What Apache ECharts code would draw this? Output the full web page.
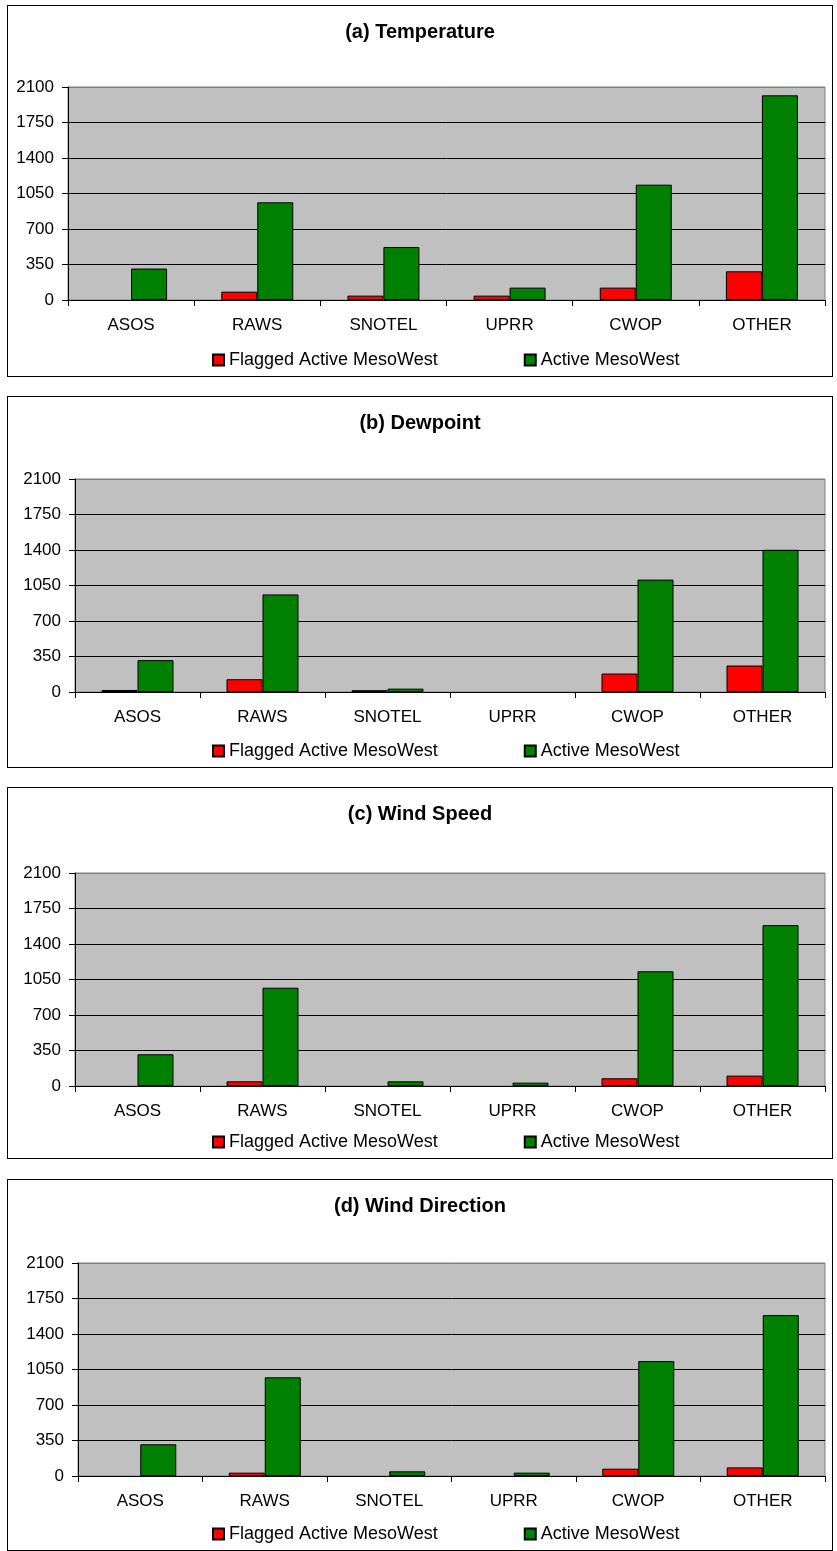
<!DOCTYPE html>
<html>
<head>
<meta charset="utf-8">
<script src="https://cdn.jsdelivr.net/npm/echarts@6/dist/echarts.min.js"></script>
<style>
  body { margin: 0; background: #fff; width: 837px; height: 1551px; position: relative; overflow: hidden; }
  .panel { position: absolute; left: 7px; width: 824px; height: 370px; border: 1px solid #000; background: #fff; }
</style>
</head>
<body>
<div id="pa" class="panel" style="top:5px"></div>
<div id="pb" class="panel" style="top:396px"></div>
<div id="pc" class="panel" style="top:787px"></div>
<div id="pd" class="panel" style="top:1179px"></div>
<script>
// station networks
const categories = ['ASOS', 'RAWS', 'SNOTEL', 'UPRR', 'CWOP', 'OTHER']
const seriesNames = ['Flagged Active MesoWest', 'Active MesoWest']

// (a) Temperature
const tempFlagged = [0, 82, 43, 43, 122, 283]
const tempActive = [310, 963, 522, 122, 1137, 2018]
// (b) Dewpoint
const dewFlagged = [20, 126, 18, 0, 182, 261]
const dewActive = [314, 962, 33, 0, 1108, 1402]
// (c) Wind Speed
const speedFlagged = [0, 46, 0, 0, 76, 102]
const speedActive = [313, 969, 46, 33, 1131, 1586]
// (d) Wind Direction
const dirFlagged = [0, 33, 0, 0, 72, 85]
const dirActive = [313, 973, 46, 33, 1133, 1586]

const yTicks = [0, 350, 700, 1050, 1400, 1750, 2100]

const font = '"Liberation Sans", Arial, sans-serif'

const panels = [
  { id: 'pa', title: '(a) Temperature', flagged: tempFlagged, active: tempActive, left: 60, top: 81 },
  { id: 'pb', title: '(b) Dewpoint', flagged: dewFlagged, active: dewActive, left: 67, top: 82 },
  { id: 'pc', title: '(c) Wind Speed', flagged: speedFlagged, active: speedActive, left: 67, top: 85 },
  { id: 'pd', title: '(d) Wind Direction', flagged: dirFlagged, active: dirActive, left: 70, top: 83 },
]

// zero counts are drawn as nothing, like the original
const noZero = arr => arr.map(v => (v === 0 ? '-' : v))

panels.forEach(p => {
  const chart = echarts.init(document.getElementById(p.id))
  chart.setOption({
    animation: false,
    textStyle: { fontFamily: font },
    title: {
      text: p.title, left: 'center', top: 11,
      textStyle: { fontSize: 20, fontWeight: 'bold', color: '#000', fontFamily: font },
    },
    legend: {
      left: 199, top: 340, padding: 5,
      itemWidth: 11, itemHeight: 11, itemGap: 86,
      icon: 'rect',
      textStyle: { fontSize: 18, color: '#000', fontFamily: font },
      data: seriesNames,
    },
    grid: {
      left: p.left, right: 7, top: p.top, height: 213,
      show: true, backgroundColor: '#C0C0C0', borderColor: '#808080', borderWidth: 1,
    },
    xAxis: {
      type: 'category', data: categories,
      axisLine: { lineStyle: { color: '#000', width: 1 } },
      axisTick: { show: true, length: 6, lineStyle: { color: '#000' } },
      axisLabel: { fontSize: 17, color: '#000', margin: 17, fontFamily: font },
    },
    yAxis: {
      type: 'value', min: yTicks[0], max: yTicks[yTicks.length - 1], interval: yTicks[1] - yTicks[0],
      axisLine: { show: true, lineStyle: { color: '#000', width: 1 } },
      axisTick: { show: true, length: 6, lineStyle: { color: '#000' } },
      axisLabel: { fontSize: 17, color: '#000', margin: 14, fontFamily: font, formatter: v => String(v) },
      splitLine: { show: true, lineStyle: { color: ['#000', '#000', '#000', '#000', '#000', '#000', '#808080'], width: 1 } },
    },
    series: [
      {
        name: seriesNames[0], type: 'bar', data: noZero(p.flagged), barWidth: 36, barGap: '0%',
        itemStyle: { color: '#FF0000', borderColor: '#000', borderWidth: 1 },
      },
      {
        name: seriesNames[1], type: 'bar', data: noZero(p.active), barWidth: 36, barGap: '0%',
        itemStyle: { color: '#008000', borderColor: '#000', borderWidth: 1 },
      },
    ],
  })
})
</script>
</body>
</html>
